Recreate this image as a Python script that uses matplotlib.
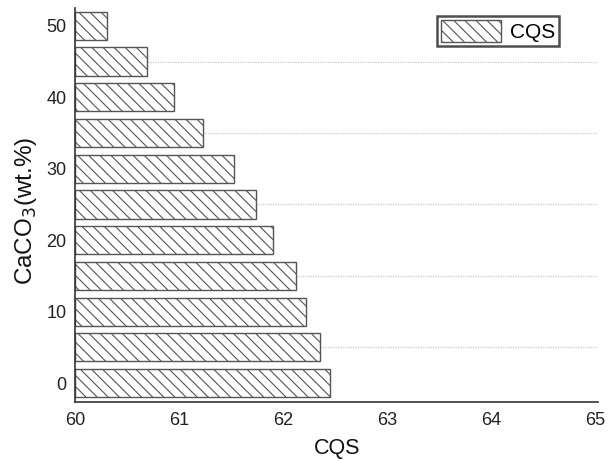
import matplotlib
matplotlib.use("Agg")
import matplotlib.pyplot as plt

plt.rcParams['font.family'] = ['Liberation Sans', 'DejaVu Sans']
plt.rcParams['hatch.color'] = '#6a6a6a'
plt.rcParams['hatch.linewidth'] = 0.8

caco3 = [0, 5, 10, 15, 20, 25, 30, 35, 40, 45, 50]
cqs = [62.45, 62.36, 62.22, 62.13, 61.90, 61.74, 61.53, 61.23, 60.955, 60.69, 60.31]
y_ticks = [0, 10, 20, 30, 40, 50]
x_ticks = [60, 61, 62, 63, 64, 65]

fig = plt.figure(figsize=(6.08, 4.61), dpi=100)
ax = fig.add_axes([75/608, 1 - 402/461, (598 - 75)/608, (402 - 8)/461])

x0 = 60
ax.barh(caco3, [v - x0 for v in cqs], left=x0, height=3.95,
        facecolor='white', edgecolor='#555555', linewidth=1.0,
        hatch='\\\\\\', label='CQS', zorder=2)

ax.set_xlim(60, 65.03)
ax.set_ylim(-2.65, 52.5)
ax.set_xticks(x_ticks)
ax.set_yticks(y_ticks)
ax.set_yticks([5, 15, 25, 35, 45], minor=True)
ax.grid(axis='y', which='minor', linestyle=(0, (1, 1)), color='#c8c8c8', linewidth=0.9, zorder=0)
ax.grid(axis='y', which='major', visible=False)
ax.tick_params(axis='both', which='both', length=0, labelsize=13, colors='#222222', pad=6)
ax.tick_params(axis='x', pad=7)

for s in ['top', 'right']:
    ax.spines[s].set_visible(False)
for s in ['left', 'bottom']:
    ax.spines[s].set_color('#333333')
    ax.spines[s].set_linewidth(1.2)

ax.set_xlabel('CQS', fontsize=15.5, color='#111111')
ax.xaxis.set_label_coords(337/608, 1 - 448/461, transform=fig.transFigure)
ax.xaxis.label.set_va('center')
ax.set_ylabel('CaCO$_3$(wt.%)', fontsize=17.5, color='#111111')
ax.yaxis.set_label_coords(26/608, 1 - 211/461, transform=fig.transFigure)
ax.yaxis.label.set_va('center')

leg = ax.legend(loc='upper right', bbox_to_anchor=(559/608, 1 - 16/461),
                bbox_transform=fig.transFigure, fontsize=15, frameon=True,
                fancybox=False, handlelength=2.9, handleheight=1.2,
                borderpad=0.2, handletextpad=0.4, borderaxespad=0)
leg.get_frame().set_edgecolor('#222222')
leg.get_frame().set_linewidth(1.8)

fig.savefig('out.png', dpi=100)
